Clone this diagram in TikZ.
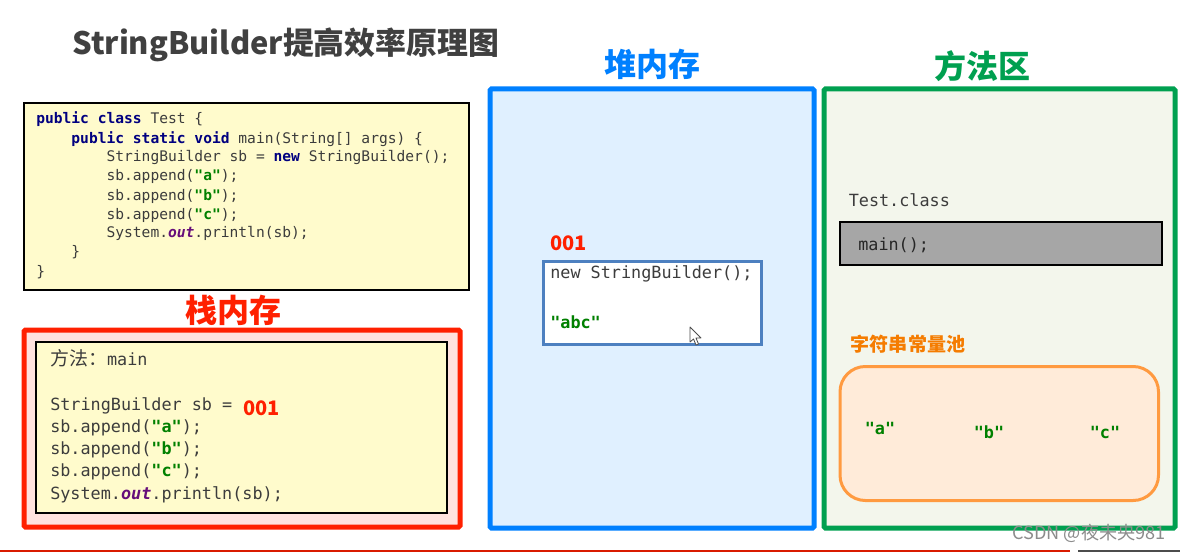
\documentclass[tikz,border=0pt]{standalone}
\usepackage{fontspec}
\setmainfont{Noto Sans CJK SC}
\setmonofont{DejaVu Sans Mono}
\newfontfamily\codecjk{Noto Sans CJK SC}
\definecolor{kwcol}{HTML}{000080}
\definecolor{strcol}{HTML}{008000}
\definecolor{fieldcol}{HTML}{660E7A}
\definecolor{codegray}{HTML}{3C3C3C}
\definecolor{paper}{HTML}{FFFBCC}
\definecolor{redline}{HTML}{FF2000}
\definecolor{redfill}{HTML}{FFE2DE}
\definecolor{blueline}{HTML}{0080FF}
\definecolor{bluefill}{HTML}{E0F0FF}
\definecolor{greenline}{HTML}{00A050}
\definecolor{greenfill}{HTML}{F3F6EC}
\definecolor{orangeline}{HTML}{FF9A40}
\definecolor{orangefill}{HTML}{FFEBD9}
\definecolor{objline}{HTML}{4D80C0}
\definecolor{orangetext}{HTML}{F57C00}
\newcommand{\kw}[1]{\textcolor{kwcol}{\textbf{#1}}}
\newcommand{\str}[1]{\textcolor{strcol}{\textbf{#1}}}
\newcommand{\fld}[1]{\textcolor{fieldcol}{\textbf{\textit{#1}}}}
\tikzset{
  codetext/.style={inner sep=0pt,anchor=base west,align=left,text=codegray},
  smallcode/.style={codetext,font=\fontsize{10.95}{14.25}\selectfont\ttfamily},
  bigcode/.style={codetext,font=\fontsize{12.6}{16.65}\selectfont\ttfamily},
  heading/.style={inner sep=0pt,font=\fontsize{24}{28}\selectfont\bfseries},
  addr/.style={inner sep=0pt,anchor=base west,text=redline,font=\fontsize{15}{18}\selectfont\bfseries},
  poolstr/.style={inner sep=0pt,text=strcol,font=\fontsize{12.6}{16}\selectfont\ttfamily\bfseries},
  paperbox/.style={draw=black,fill=paper,line width=1.5pt},
  panel/.style={line width=3.75pt,rounded corners=1pt},
}
\begin{document}
\begin{tikzpicture}[x=.75pt,y=-.75pt]
\useasboundingbox[fill=white] (0,0) rectangle (1180,552);
% bottom lines
\draw[redline!85!black,line width=1.5pt] (0,550.5) -- (1070,550.5);
\draw[black!70,line width=1.5pt] (1078,550.5) -- (1180,550.5);
% title
\node[inner sep=0pt,anchor=base west,text=black!75,font=\fontsize{23.15}{28}\selectfont\bfseries] (title) at (72,55) {StringBuilder提高效率原理图};
% source code
\draw[paperbox] (23.5,103) rectangle (468.5,290);
\node[smallcode] (source) at (36,276) {\kw{public} \kw{class} Test \{\\
\ \ \ \ \kw{public} \kw{static} \kw{void} main(String[] args) \{\\
\ \ \ \ \ \ \ \ StringBuilder sb = \kw{new} StringBuilder();\\
\ \ \ \ \ \ \ \ sb.append(\str{"a"});\\
\ \ \ \ \ \ \ \ sb.append(\str{"b"});\\
\ \ \ \ \ \ \ \ sb.append(\str{"c"});\\
\ \ \ \ \ \ \ \ System.\fld{out}.println(sb);\\
\ \ \ \ \}\\
\}};
% stack
\node[heading,text=redline] (stacklabel) at (233,310) {栈内存};
\draw[panel,draw=redline,fill=redfill] (24,330) rectangle (460,527);
\draw[paperbox] (36,342) rectangle (447,513);
\node[bigcode] (frame) at (50,499) {{\codecjk\fontsize{14.2}{16.65}\selectfont 方法：}main\\
\mbox{}\\
StringBuilder sb =\\
sb.append(\str{"a"});\\
sb.append(\str{"b"});\\
sb.append(\str{"c"});\\
System.\fld{out}.println(sb);};
\node[addr] (ref) at (243,415) {001};
% heap
\node[heading,text=blueline] (heaplabel) at (652,64) {堆内存};
\draw[panel,draw=blueline,fill=bluefill] (490,89) rectangle (814,528);
\node[addr] (addr) at (550,250) {001};
\draw[draw=objline,fill=white,line width=2.25pt] (543.5,261) rectangle (761.5,344.5);
\node[bigcode] (obj) at (550,278) {new StringBuilder();};
\node[codetext,font=\fontsize{12.6}{16}\selectfont\ttfamily\bfseries,text=strcol] (abc) at (550,328) {"abc"};
% cursor
\draw[fill=white,draw=black!70,line width=.6pt,line join=round] (690,327) -- (690,342) -- (693.5,339) -- (696,345) -- (698.5,344) -- (696,338) -- (701,338) -- cycle;
% method area
\node[heading,text=greenline] (methodlabel) at (982,66) {方法区};
\draw[panel,draw=greenline,fill=greenfill] (824,89) rectangle (1175,528);
\node[bigcode] (cls) at (848.5,207) {Test.class};
\draw[draw=black,fill=black!35,line width=1.5pt] (840,222.5) rectangle (1161.5,265);
\node[bigcode,text=black!85] (mainm) at (858,250) {main();};
\node[inner sep=0pt,text=orangetext,font=\fontsize{14.3}{17}\selectfont\bfseries] (poollabel) at (908,344) {字符串常量池};
\draw[draw=orangeline,fill=orangefill,line width=2.25pt,rounded corners=19pt] (840,366.5) rectangle (1158.5,500.5);
\node[poolstr] (a) at (880,428) {"a"};
\node[poolstr] (b) at (989,432) {"b"};
\node[poolstr] (c) at (1105,432) {"c"};
% watermark
\node[inner sep=0pt,text=black!45,font=\fontsize{13.6}{16}\selectfont] (mark) at (1089,533) {CSDN @夜未央981};
\end{tikzpicture}
\end{document}
